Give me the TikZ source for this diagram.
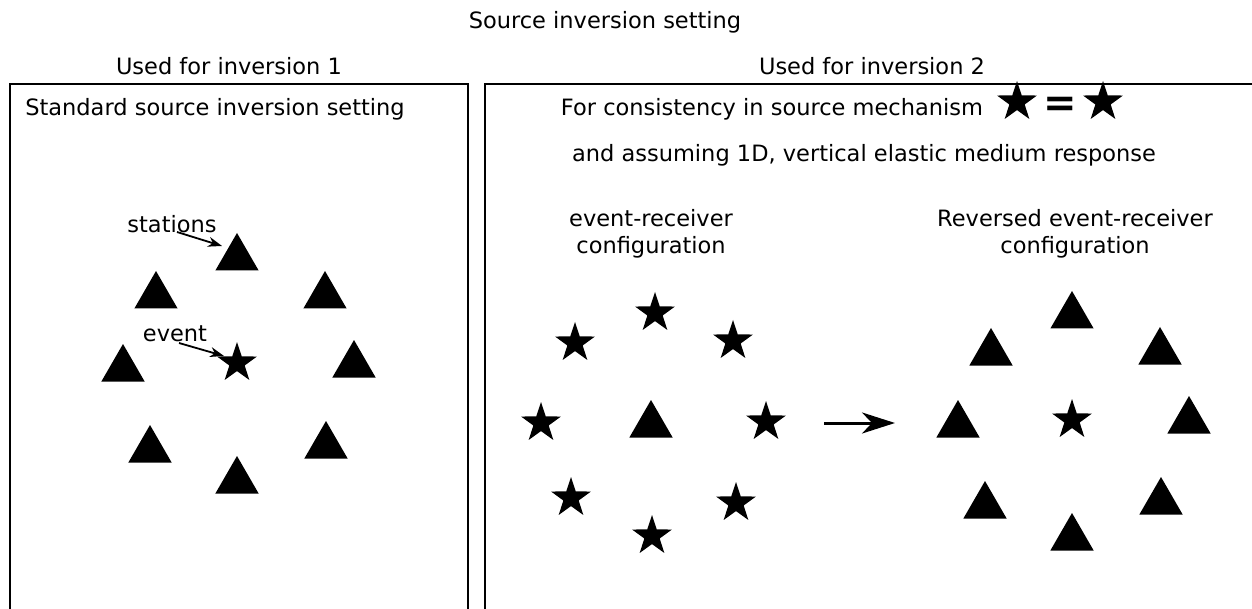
\documentclass[tikz,border=0pt]{standalone}
\usepackage{fontspec}
\setmainfont{DejaVu Sans}
\usetikzlibrary{shapes.geometric, arrows.meta, calc}

\begin{document}
\begin{tikzpicture}[x=1pt, y=-1pt,
    every node/.style={font=\fontsize{22.5}{27}\selectfont},
    station/.style={regular polygon, regular polygon sides=3, fill=black, inner sep=0pt, minimum size=50pt},
    quake/.style={star, star points=5, star point ratio=2.6, fill=black, inner sep=0pt, minimum size=42pt},
    panel/.style={line width=2pt, black},
    pointer/.style={-{Stealth[length=14pt, width=10pt]}, line width=1.8pt},
    flip/.style={-{Stealth[length=33pt, width=21pt, inset=10pt]}, line width=3pt}
  ]

  \useasboundingbox (0,0) rectangle (1252,609);

  % Panels
  \draw[panel] (10,615) -- (10,84) -- (468,84) -- (468,615);
  \draw[panel] (485,615) -- (485,84) -- (1260,84);

  % Headings
  \node (title) at (605,22) {Source inversion setting};
  \node (use1) at (229,66) {Used for inversion 1};
  \node (use2) at (872,66) {Used for inversion 2};
  \node (std) at (215,109) {Standard source inversion setting};

  % Inversion 1: stations around the event
  \foreach \x/\y [count=\i] in {237/258, 156/296, 325/296, 123/369, 354/365, 150/450, 326/446, 237/481}
    \node[station] (s\i) at (\x,\y) {};
  \node[quake] (ev) at (237,363) {};
  \node (stations) at (172,224) {stations};
  \node (event) at (175,334) {event};
  \draw[pointer] ($(stations)+(5,8)$) -- ($(s1)+(-15,-12)$);
  \draw[pointer] ($(event)+(4,9)$) -- ($(ev)+(-13,-7)$);

  % Inversion 2: header
  \node (consist) at (772,109) {For consistency in source mechanism};
  \node[quake] (qa) at (1017,102) {};
  \node[font=\fontsize{40}{40}\selectfont\bfseries] (eq) at (1060,107) {=};
  \node[quake] (qb) at (1103,102) {};
  \node (assume) at (864,155) {and assuming 1D, vertical elastic medium response};

  \node[align=center] (fwd) at (651,234) {event-receiver\\configuration};
  \node[align=center] (rev) at (1075,234) {Reversed event-receiver\\configuration};

  % Event-receiver configuration
  \foreach \x/\y [count=\i] in {655/313, 575/343, 733/341, 541/423, 766/422, 571/498, 736/503, 652/536}
    \node[quake] (e\i) at (\x,\y) {};
  \node[station] (rcv) at (651,425) {};

  % Reversed configuration
  \foreach \x/\y [count=\i] in {1072/316, 991/353, 1160/352, 958/425, 1189/421, 985/506, 1161/502, 1072/538}
    \node[station] (r\i) at (\x,\y) {};
  \node[quake] (src) at (1072,420) {};

  \coordinate (flipfrom) at (824,423);
  \coordinate (flipto) at (895,423);
  \draw[flip] (flipfrom) -- (flipto);

\end{tikzpicture}
\end{document}
